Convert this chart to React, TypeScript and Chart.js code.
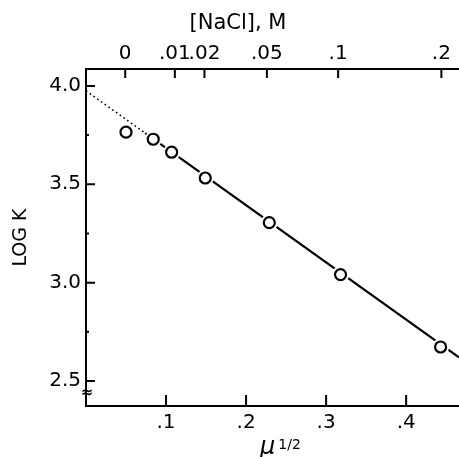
import React, { useEffect, useRef } from "react";
import { Chart, registerables } from "chart.js";

Chart.register(...registerables);

// ---- data ----
const muSqrt = [0.05, 0.084, 0.107, 0.149, 0.229, 0.318, 0.443];
const logK = [3.765, 3.729, 3.663, 3.532, 3.305, 3.041, 2.673];

const fitSolidX = [0.074, 0.466];
const fitSolidY = [3.76, 2.62];
const fitDottedX = [0, 0.074];
const fitDottedY = [3.975, 3.76];

const bottomTickValues = [0.1, 0.2, 0.3, 0.4];
const bottomTickLabels = [".1", ".2", ".3", ".4"];

const topTickPositions = [0.049, 0.111, 0.148, 0.226, 0.315, 0.444];
const topTickLabels = ["0", ".01", ".02", ".05", ".1", ".2"];

const yTickValues = [2.5, 3.0, 3.5, 4.0];
const yTickLabels = ["2.5", "3.0", "3.5", "4.0"];
const yMinorTicks = [2.75, 3.25, 3.75];

const X_MIN = 0;
const X_MAX = 0.466;
const Y_MIN = 2.373;
const Y_MAX = 4.086;

const FONT = '"DejaVu Sans", sans-serif';

const toPts = (xs: number[], ys: number[]) => xs.map((x, i) => ({ x, y: ys[i] }));

const framePlugin = {
  id: "frameTicks",
  afterDraw(chart: any) {
    const ctx = chart.ctx;
    const area = chart.chartArea;
    const xs = chart.scales.x;
    const xt = chart.scales.xTop;
    const ys = chart.scales.y;
    ctx.save();
    ctx.strokeStyle = "#000";
    ctx.lineWidth = 2;
    ctx.lineCap = "butt";
    ctx.beginPath();
    bottomTickValues.forEach((v) => {
      const px = xs.getPixelForValue(v);
      ctx.moveTo(px, area.bottom);
      ctx.lineTo(px, area.bottom - 11);
    });
    topTickPositions.forEach((v) => {
      const px = xt.getPixelForValue(v);
      ctx.moveTo(px, area.top);
      ctx.lineTo(px, area.top + 9);
    });
    yTickValues.forEach((v) => {
      const py = ys.getPixelForValue(v);
      ctx.moveTo(area.left, py);
      ctx.lineTo(area.left + 9, py);
    });
    yMinorTicks.forEach((v) => {
      const py = ys.getPixelForValue(v);
      ctx.moveTo(area.left, py);
      ctx.lineTo(area.left + 3, py);
    });
    ctx.stroke();

    // axis break mark
    ctx.fillStyle = "#000";
    ctx.font = `bold 15px ${FONT}`;
    ctx.textAlign = "center";
    ctx.textBaseline = "middle";
    ctx.fillText("≈", area.left + 1, ys.getPixelForValue(2.44));

    // top axis title
    ctx.font = `21px ${FONT}`;
    ctx.textAlign = "center";
    ctx.textBaseline = "middle";
    ctx.fillText("[NaCl], M", 238, 24);

    // x-axis title: mu^(1/2)
    ctx.textAlign = "left";
    ctx.textBaseline = "alphabetic";
    ctx.font = `italic 24px ${FONT}`;
    const muX = 260;
    const baseY = 454;
    ctx.fillText("μ", muX, baseY);
    const w = ctx.measureText("μ").width;
    ctx.font = `14px ${FONT}`;
    ctx.fillText("1/2", muX + w + 3, baseY - 5);
    ctx.restore();
  },
};

const noPad = (s: any) => {
  s.paddingLeft = 0;
  s.paddingRight = 0;
  s.paddingTop = 0;
  s.paddingBottom = 0;
};

export default function App() {
  const ref = useRef<HTMLCanvasElement | null>(null);

  useEffect(() => {
    if (!ref.current) return;
    Chart.defaults.font.family = FONT;
    Chart.defaults.color = "#000";
    const chart = new Chart(ref.current, {
      type: "scatter",
      data: {
        datasets: [
          {
            label: "points",
            data: toPts(muSqrt, logK),
            pointRadius: 5.5,
            pointBorderWidth: 2.2,
            pointBorderColor: "#000",
            pointBackgroundColor: "#fff",
            showLine: false,
            order: 0,
          },
          {
            label: "halo",
            data: toPts(muSqrt, logK),
            pointRadius: 8.5,
            pointBorderWidth: 0,
            pointBackgroundColor: "#fff",
            pointBorderColor: "#fff",
            showLine: false,
            order: 1,
          },
          {
            label: "fit",
            data: toPts(fitSolidX, fitSolidY),
            showLine: true,
            borderColor: "#000",
            borderWidth: 2.2,
            pointRadius: 0,
            order: 2,
          },
          {
            label: "extrapolation",
            data: toPts(fitDottedX, fitDottedY),
            showLine: true,
            borderColor: "#000",
            borderWidth: 1.6,
            borderDash: [1.6, 3],
            pointRadius: 0,
            order: 3,
          },
        ],
      },
      options: {
        animation: false,
        responsive: false,
        devicePixelRatio: 1,
        layout: { padding: 0, autoPadding: false },
        plugins: {
          legend: { display: false },
          tooltip: { enabled: false },
        },
        scales: {
          x: {
            type: "linear",
            position: "bottom",
            min: X_MIN,
            max: X_MAX,
            grid: { display: false, drawTicks: false },
            border: { display: true, color: "#000", width: 2 },
            afterBuildTicks: (s: any) => {
              s.ticks = bottomTickValues.map((v) => ({ value: v }));
            },
            afterFit: (s: any) => {
              s.height = 51;
              noPad(s);
            },
            ticks: {
              autoSkip: false,
              maxRotation: 0,
              padding: 5,
              font: { size: 20 },
              color: "#000",
              callback: (_v: any, i: number) => bottomTickLabels[i],
            },
          },
          xTop: {
            type: "linear",
            position: "top",
            min: X_MIN,
            max: X_MAX,
            grid: { display: false, drawTicks: false },
            border: { display: true, color: "#000", width: 2 },
            afterBuildTicks: (s: any) => {
              s.ticks = topTickPositions.map((v) => ({ value: v }));
            },
            afterFit: (s: any) => {
              s.height = 69;
              noPad(s);
            },
            ticks: {
              autoSkip: false,
              maxRotation: 0,
              padding: 3,
              font: { size: 20 },
              color: "#000",
              callback: (_v: any, i: number) => topTickLabels[i],
            },
          },
          y: {
            type: "linear",
            position: "left",
            min: Y_MIN,
            max: Y_MAX,
            grid: { display: false, drawTicks: false },
            border: { display: true, color: "#000", width: 2 },
            afterBuildTicks: (s: any) => {
              s.ticks = yTickValues.map((v) => ({ value: v }));
            },
            afterFit: (s: any) => {
              s.width = 86;
              noPad(s);
            },
            title: {
              display: true,
              text: "LOG K",
              font: { size: 19 },
              color: "#000",
              padding: { top: 10, bottom: 0 },
            },
            ticks: {
              autoSkip: false,
              padding: 5,
              font: { size: 20 },
              color: "#000",
              callback: (_v: any, i: number) => yTickLabels[i],
            },
          },
        },
      },
      plugins: [framePlugin],
    });
    return () => chart.destroy();
  }, []);

  return (
    <div style={{ position: "absolute", left: 0, top: 0, width: 459, height: 457, background: "#fff" }}>
      <canvas ref={ref} width={459} height={457} style={{ width: 459, height: 457 }} />
    </div>
  );
}
